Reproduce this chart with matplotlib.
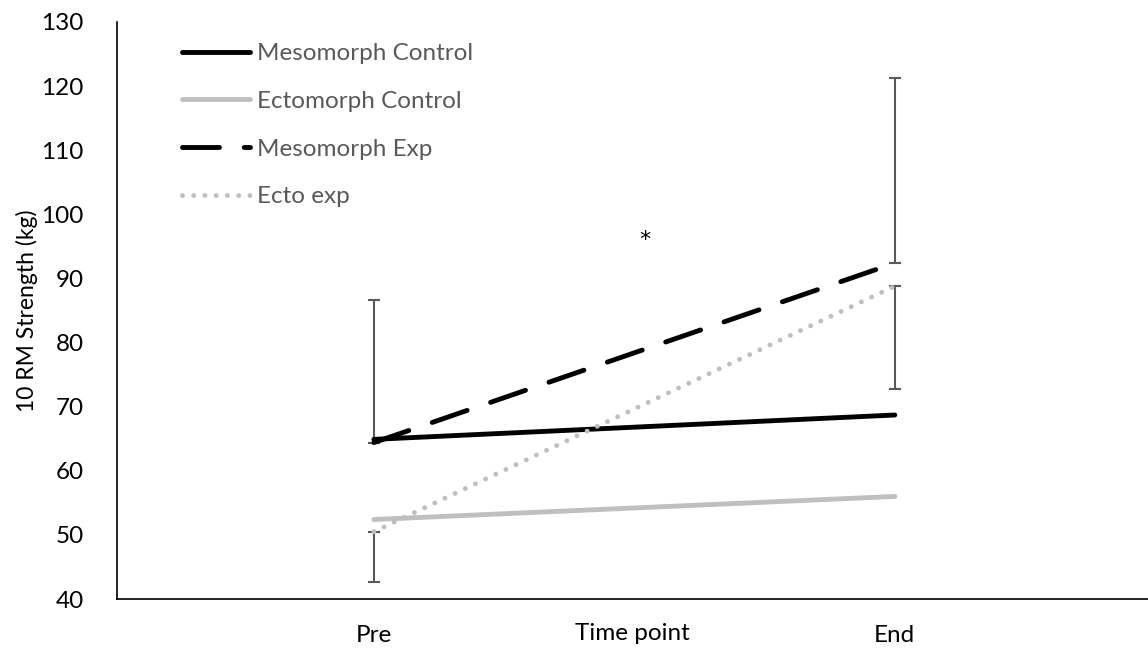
import matplotlib
matplotlib.use('Agg')
import matplotlib.pyplot as plt

# data
time_points = ['Pre', 'End']
meso_control = [64.9, 68.7]
ecto_control = [52.4, 56.0]
meso_exp = [64.4, 92.4]
ecto_exp = [50.5, 88.8]
meso_exp_err_up = [22.2, 28.8]
ecto_exp_err_down = [7.8, 16.0]

plt.rcParams['font.family'] = ['Lato', 'DejaVu Sans']

fig = plt.figure(figsize=(11.48, 6.49), dpi=100)
ax_top, ax_bot = 22, 599
ax = fig.add_axes([117 / 1148, 1 - ax_bot / 649, 1 - 117 / 1148, (ax_bot - ax_top) / 649])

x = list(range(len(time_points)))
lw = 3.5
ax.plot(x, meso_control, color='black', lw=lw, solid_capstyle='round', label='Mesomorph Control', zorder=3)
ax.plot(x, ecto_control, color='#bfbfbf', lw=lw, solid_capstyle='round', label='Ectomorph Control', zorder=3)
line, = ax.plot(x, meso_exp, color='black', lw=lw, dash_capstyle='round', label='Mesomorph Exp', zorder=4)
line.set_dashes((7.6, 5.1))
dots, = ax.plot(x, ecto_exp, color='#bfbfbf', lw=lw, dash_capstyle='round', label='Ecto exp', zorder=3)
dots.set_dashes((0.01, 2.3))

# one-sided error bars
ax.errorbar(x, meso_exp, yerr=[[0, 0], meso_exp_err_up], fmt='none', ecolor='#595959',
            elinewidth=1.5, capsize=4, capthick=1.5, zorder=2)
ax.errorbar(x, ecto_exp, yerr=[ecto_exp_err_down, [0, 0]], fmt='none', ecolor='#595959',
            elinewidth=1.5, capsize=4, capthick=1.5, zorder=2)

ax.text(0.52, 96, '*', ha='center', va='center', fontsize=16, family='DejaVu Sans')

ax.set_xlim(-0.493, 1.486)
ax.set_ylim(40, 130)
ax.set_yticks(range(40, 131, 10))
ax.set_xticks(x)
ax.set_xticklabels(time_points)
ax.tick_params(length=0, labelsize=17.5, colors='black')
ax.tick_params(axis='x', pad=19)
ax.tick_params(axis='y', pad=24)
ax.set_ylabel('10 RM Strength (kg)', fontsize=16.5)
ax.yaxis.set_label_coords(-(117 - 27) / 1031, 0.5)
ax.yaxis.label.set_va('center')
ax.set_xlabel('Time point', fontsize=17.5)
ax.xaxis.set_label_coords(0.5, -(633 - ax_bot) / (ax_bot - ax_top))
ax.xaxis.label.set_va('center')

for s in ['top', 'right']:
    ax.spines[s].set_visible(False)
ax.spines['left'].set_linewidth(1.2)
ax.spines['bottom'].set_linewidth(1.2)

leg = ax.legend(loc='upper left', bbox_to_anchor=(182 / 1148, 1 - 43 / 649), bbox_transform=fig.transFigure,
                frameon=False, fontsize=17.5, handlelength=2.8, handletextpad=0.3, labelspacing=1.1,
                borderpad=0, borderaxespad=0)
for t in leg.get_texts():
    t.set_color('#595959')

fig.savefig('out.png', dpi=100)
